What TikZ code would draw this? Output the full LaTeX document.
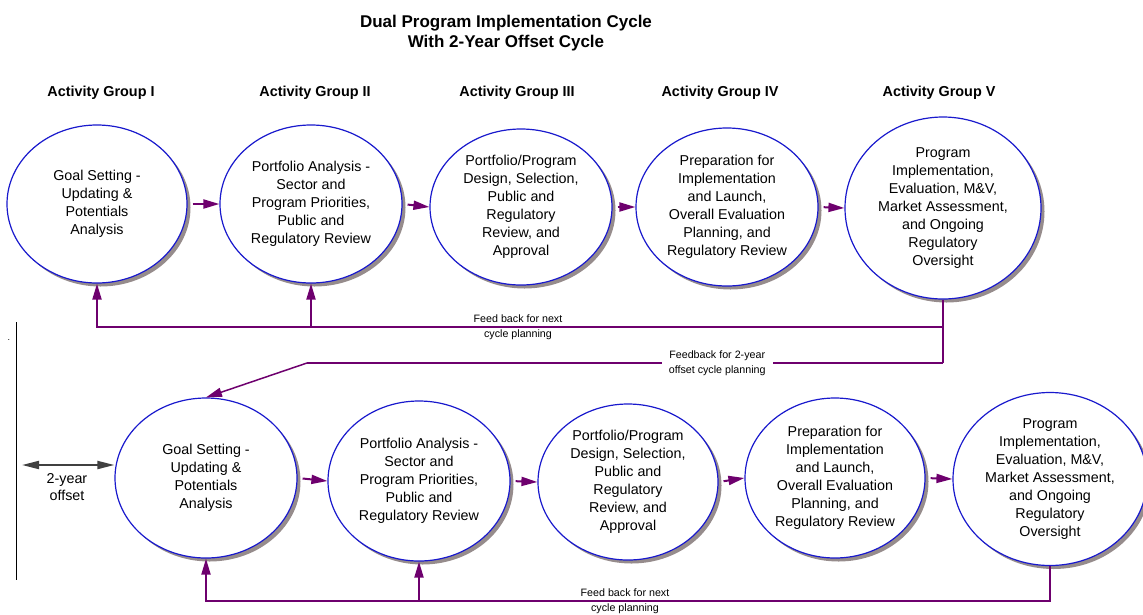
\documentclass[tikz,border=0pt]{standalone}
\usepackage{fontspec}
\setmainfont{Liberation Sans}
\usepackage{xcolor}
\usepackage{tikz}
\usetikzlibrary{positioning,shapes,shadows,arrows.meta}

\definecolor{cycleblue}{RGB}{25,25,205}
\definecolor{fbpurple}{RGB}{110,0,110}
\definecolor{shadowgray}{RGB}{150,140,140}

\begin{document}
\begin{tikzpicture}[
    x=1pt, y=-1pt,
    stage/.style = {
        ellipse,
        draw=cycleblue,
        line width=1.2pt,
        fill=white,
        inner sep=-20pt,
        align=center,
        font=\fontsize{14.3}{18}\selectfont,
        drop shadow={shadow xshift=3.5pt, shadow yshift=-3.5pt, fill=shadowgray, opacity=1}
    },
    grouplabel/.style = {anchor=base, font=\fontsize{14.4}{17}\selectfont\bfseries},
    fblabel/.style    = {align=center, font=\fontsize{10.7}{15.5}\selectfont},
    arrow/.style      = {-{Triangle[length=16pt,width=9pt]}, line width=2pt, draw=fbpurple, shorten <=5pt},
    fbline/.style     = {line width=2pt, draw=fbpurple},
    fbarrow/.style    = {fbline, -{Triangle[length=16pt,width=9pt]}},
    offsetarrow/.style = {{Triangle[length=17pt,width=8pt]}-{Triangle[length=17pt,width=8pt]}, line width=2pt, draw=black!75},
    line cap=butt, line join=miter
]

\useasboundingbox (0,0) rectangle (1143,614);

% Title
\node[font=\fontsize{17}{19.5}\selectfont\bfseries, align=center] (title) at (506,33) {
    Dual Program Implementation Cycle\\
    With 2-Year Offset Cycle
};

% Activity group headers
\node[grouplabel] (grp1) at (101,96) {Activity Group I};
\node[grouplabel] (grp2) at (315,96) {Activity Group II};
\node[grouplabel] (grp3) at (517,96) {Activity Group III};
\node[grouplabel] (grp4) at (720,96) {Activity Group IV};
\node[grouplabel] (grp5) at (939,96) {Activity Group V};

% Row 1: first cycle
\node[stage, minimum width=180pt, minimum height=158pt] (goal1) at (97,204) {
    Goal Setting -\\
    Updating \&\\
    Potentials\\
    Analysis
};

\node[stage, minimum width=182pt, minimum height=158pt] (portfolio1) at (311,204) {
    Portfolio Analysis -\\
    Sector and\\
    Program Priorities,\\
    Public and\\
    Regulatory Review
};

\node[stage, minimum width=182pt, minimum height=156pt] (design1) at (521,207) {
    Portfolio/Program\\
    Design, Selection,\\
    Public and\\
    Regulatory\\
    Review, and\\
    Approval
};

\node[stage, minimum width=182pt, minimum height=158pt] (prep1) at (727,207) {
    Preparation for\\
    Implementation\\
    and Launch,\\
    Overall Evaluation\\
    Planning, and\\
    Regulatory Review
};

\node[stage, minimum width=196pt, minimum height=182pt] (impl1) at (943,208) {
    Program\\
    Implementation,\\
    Evaluation, M\&V,\\
    Market Assessment,\\
    and Ongoing\\
    Regulatory\\
    Oversight
};

% Row 2: offset cycle
\node[stage, minimum width=182pt, minimum height=160pt] (goal2) at (206,478) {
    Goal Setting -\\
    Updating \&\\
    Potentials\\
    Analysis
};

\node[stage, minimum width=182pt, minimum height=160pt] (portfolio2) at (419,481) {
    Portfolio Analysis -\\
    Sector and\\
    Program Priorities,\\
    Public and\\
    Regulatory Review
};

\node[stage, minimum width=180pt, minimum height=156pt] (design2) at (628,482) {
    Portfolio/Program\\
    Design, Selection,\\
    Public and\\
    Regulatory\\
    Review, and\\
    Approval
};

\node[stage, minimum width=180pt, minimum height=160pt] (prep2) at (835,478) {
    Preparation for\\
    Implementation\\
    and Launch,\\
    Overall Evaluation\\
    Planning, and\\
    Regulatory Review
};

\node[stage, minimum width=194pt, minimum height=173pt] (impl2) at (1050,479) {
    Program\\
    Implementation,\\
    Evaluation, M\&V,\\
    Market Assessment,\\
    and Ongoing\\
    Regulatory\\
    Oversight
};

% Arrows - row 1
\draw[arrow] (goal1.east) -- (portfolio1.west);
\draw[arrow] (portfolio1.east) -- (design1.west);
\draw[arrow] (design1.east) -- (prep1.west);
\draw[arrow] (prep1.east) -- (impl1.west);

% Arrows - row 2
\draw[arrow] (goal2.east) -- (portfolio2.west);
\draw[arrow] (portfolio2.east) -- (design2.west);
\draw[arrow] (design2.east) -- (prep2.west);
\draw[arrow] (prep2.east) -- (impl2.west);

% Feedback - first cycle
\coordinate (fbtop)  at (943,327);
\coordinate (fbmid)  at (943,363);
\coordinate (fbbend) at (307,363);
\coordinate (fbbot)  at (0,601);

\draw[fbline] (impl1.south) -- (fbmid);
\draw[fbarrow] (fbtop) -| (goal1.south);
\draw[fbarrow] (portfolio1.south |- fbtop) -- (portfolio1.south);
\node[fblabel] (fbnext1) at (518,327) {Feed back for next\\cycle planning};

% Feedback - into the offset cycle
\draw[fbline] (fbmid) -- node[fblabel, pos=0.355, fill=white, inner xsep=7pt, inner ysep=1pt] (fboffset) {Feedback for 2-year\\offset cycle planning} (fbbend);
\draw[fbarrow, line width=1.5pt] (fbbend) -- (goal2.north);

% Feedback - offset cycle
\draw[fbarrow] (impl2.south) |- (goal2.south |- fbbot) -- (goal2.south);
\draw[fbarrow] (portfolio2.south |- fbbot) -- (portfolio2.south);
\node[fblabel] (fbnext2) at (625,601) {Feed back for next\\cycle planning};

% 2-year offset marker
\coordinate (railtop)  at (16,322);
\coordinate (railbot)  at (16,580);
\coordinate (offstart) at (22,465);
\draw[line width=1pt] (railtop) -- (railbot);
\draw[offsetarrow] (offstart) -- (offstart -| goal2.west);
\node[align=center, font=\fontsize{14.3}{17}\selectfont] (offlabel) at (67,487) {2-year\\offset};
\node[anchor=base, font=\fontsize{9}{9}\selectfont] (dot) at (9,340) {.};

\end{tikzpicture}
\end{document}
